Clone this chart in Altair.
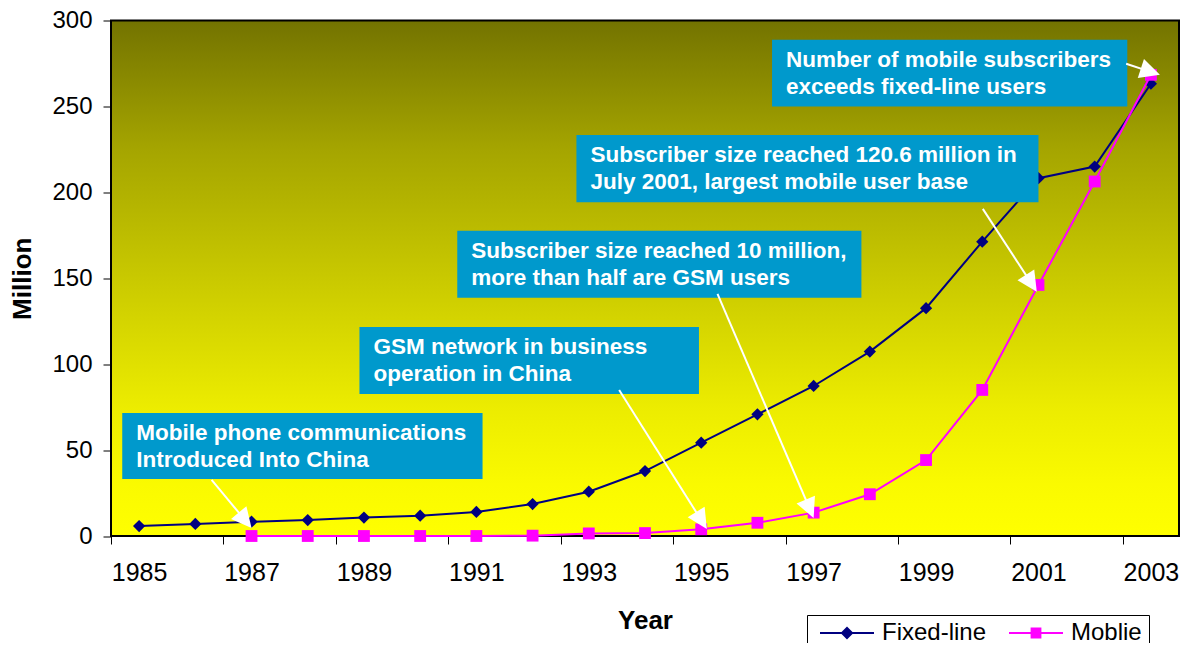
import math
import altair as alt
import pandas as pd

# ---------------- data ----------------
years = list(range(1985, 2004))
fixed_line = [5.8, 7.0, 8.3, 9.3, 10.7, 11.8, 14.0, 18.6, 25.8, 37.8, 54.3,
              70.8, 87.3, 107.3, 132.6, 171.3, 208.2, 215.0, 263.2]
mobile_years = list(range(1987, 2004))
mobile = [0.0, 0.0, 0.0, 0.0, 0.0, 0.2, 1.5, 1.7, 3.9, 7.7, 13.6, 24.3,
          44.2, 85.0, 146.1, 206.3, 268.4]
series_names = ["Fixed-line", "Moblie"]
series_colors = ["#000080", "#FF00FF"]
x_label_years = list(range(1985, 2004, 2))
y_ticks = [0, 50, 100, 150, 200, 250, 300]

note_line1 = ["Mobile phone communications", "GSM network in business",
              "Subscriber size reached 10 million,",
              "Subscriber size reached 120.6 million in",
              "Number of mobile subscribers"]
note_line2 = ["Introduced Into China", "operation in China",
              "more than half are GSM users",
              "July 2001, largest mobile user base",
              "exceeds fixed-line users"]
note_left = [1984.70, 1988.92, 1990.66, 1992.78, 1996.26]
note_right = [1991.11, 1994.96, 1997.85, 2001.00, 2002.58]
note_top = [71.6, 121.7, 177.6, 233.4, 288.8]
note_bottom = [33.2, 82.7, 138.7, 194.3, 249.9]

arrow_from_year = [1986.29, 1993.54, 1995.29, 2000.01, 2002.56]
arrow_from_value = [32.6, 85.0, 140.9, 190.4, 274.8]
arrow_to_year = [1987.00, 1995.10, 1997.00, 2000.97, 2003.16]
arrow_to_value = [4.7, 4.1, 10.5, 142.2, 268.4]

# ---------------- layout / style ----------------
W = 1068
H = 515.5
PX_YEAR = W / 19.0
PX_VAL = H / 300.0
FONT = "Liberation Sans"
HEAD_LEN = 20.0
HEAD_PATH = "M0,0L-0.5,1L0.5,1Z"
LEGEND_PATHS = [
    "M-1,-0.037L1,-0.037L1,0.037L-1,0.037Z M0,-0.24L0.24,0L0,0.24L-0.24,0Z",
    "M-1,-0.037L1,-0.037L1,0.037L-1,0.037Z M-0.2,-0.2L0.2,-0.2L0.2,0.2L-0.2,0.2Z",
]

XS = alt.Scale(domain=[1984.5, 2003.5], nice=False, zero=False)
YS = alt.Scale(domain=[0, 300], nice=False, zero=False)

x_axis = alt.Axis(values=x_label_years, format="d", tickOffset=-PX_YEAR / 2,
                  labelOffset=PX_YEAR / 2, tickSize=8, tickColor="black",
                  tickWidth=1, domain=False, grid=False, labelFont=FONT,
                  labelFontSize=25, labelColor="black", labelPadding=16,
                  labelFlush=False, labelOverlap=False, title="Year",
                  titleFont=FONT, titleFontSize=26, titleFontWeight="bold",
                  titleColor="black", titlePadding=22)
y_axis = alt.Axis(values=y_ticks, tickSize=8, tickColor="black", tickWidth=1,
                  domain=False, grid=False, labelFont=FONT, labelFontSize=24,
                  labelColor="black", labelPadding=11, title="Million",
                  titleFont=FONT, titleFontSize=26, titleFontWeight="bold",
                  titleColor="black", titlePadding=16)

X = alt.X("year:Q", scale=XS, axis=x_axis)
Y = alt.Y("value:Q", scale=YS, axis=y_axis)

# ---------------- tables ----------------
lines_df = pd.DataFrame({
    "year": years + mobile_years,
    "value": fixed_line + mobile,
    "series": [series_names[0]] * len(years) + [series_names[1]] * len(mobile_years),
})
bg_df = pd.DataFrame({"year": [1984.5], "year2": [2003.5], "value": [0], "value2": [300]})
notes_df = pd.DataFrame({"year": note_left, "year2": note_right,
                         "value": note_top, "value2": note_bottom,
                         "line1": note_line1, "line2": note_line2})

rule_rows, head_rows = [], []
for sx, sy, tx, ty in zip(arrow_from_year, arrow_from_value, arrow_to_year, arrow_to_value):
    dxp = (tx - sx) * PX_YEAR
    dyp = -(ty - sy) * PX_VAL
    L = math.hypot(dxp, dyp)
    ang = math.degrees(math.atan2(dxp, -dyp)) % 360
    ex = tx - (dxp / L * HEAD_LEN * 0.6) / PX_YEAR
    ey = ty + (dyp / L * HEAD_LEN * 0.6) / PX_VAL
    rule_rows.append({"year": sx, "value": sy, "year2": ex, "value2": ey})
    head_rows.append({"year": tx, "value": ty, "angle": ang})
rules_df = pd.DataFrame(rule_rows)
heads_df = pd.DataFrame(head_rows)

gradient = alt.LinearGradient(
    gradient="linear",
    stops=[alt.GradientStop(color="#737300", offset=0),
           alt.GradientStop(color="#A5A500", offset=0.25),
           alt.GradientStop(color="#C9C900", offset=0.5),
           alt.GradientStop(color="#ECEC00", offset=0.75),
           alt.GradientStop(color="#FAFA00", offset=0.9),
           alt.GradientStop(color="#FFFF00", offset=1)],
    x1=0, x2=0, y1=0, y2=1)

# ---------------- layers ----------------
bg = alt.Chart(bg_df).mark_rect(fill=gradient, stroke="black", strokeWidth=2).encode(
    x=X, x2="year2:Q", y=Y, y2="value2:Q")

layers = [bg]
shapes = ["diamond", "square"]
sizes = [150, 140]
for name, col, shp, sz in zip(series_names, series_colors, shapes, sizes):
    base = alt.Chart(lines_df).transform_filter(alt.datum.series == name)
    layers.append(base.mark_line(color=col, strokeWidth=2).encode(x=X, y=Y))
    layers.append(base.mark_point(shape=shp, size=sz, filled=True, color=col,
                                  opacity=1).encode(x=X, y=Y))

layers.append(alt.Chart(notes_df).mark_rect(fill="#0099CC").encode(
    x=X, x2="year2:Q", y=Y, y2="value2:Q"))
for field, dy in (("line1", 20), ("line2", 47)):
    layers.append(alt.Chart(notes_df).mark_text(
        align="left", baseline="middle", dx=14, dy=dy, font=FONT,
        fontSize=22.5, fontWeight="bold", color="white").encode(
        x=X, y=Y, text=f"{field}:N"))

layers.append(alt.Chart(rules_df).mark_rule(color="white", strokeWidth=2).encode(
    x=X, y=Y, x2="year2:Q", y2="value2:Q"))
layers.append(alt.Chart(heads_df).mark_point(
    shape=HEAD_PATH, size=(2 * HEAD_LEN) ** 2, filled=True, color="white",
    opacity=1).encode(x=X, y=Y, angle=alt.Angle("angle:Q", scale=None)))

leg = alt.Legend(orient="none", legendX=696, legendY=594.5, direction="horizontal",
                 title=None, fillColor="white", strokeColor="black", padding=7,
                 symbolSize=2916, symbolStrokeWidth=0, symbolOffset=6,
                 labelOffset=8, columnPadding=16, clipHeight=22, labelFont=FONT,
                 labelFontSize=24, labelColor="black", symbolOpacity=1,
                 labelLimit=0)
layers.append(alt.Chart(lines_df).transform_filter("false").mark_point(
    filled=True, size=2916, opacity=1).encode(
    x=X, y=Y,
    color=alt.Color("series:N", scale=alt.Scale(domain=series_names, range=series_colors), legend=leg),
    shape=alt.Shape("series:N", scale=alt.Scale(domain=series_names, range=LEGEND_PATHS), legend=leg)))

chart = alt.layer(*layers).properties(
    width=W, height=H, background="white",
    padding={"left": 103, "top": 12.5, "right": 1, "bottom": 107},
    autosize=alt.AutoSizeParams(type="none"),
).configure_view(stroke=None)

chart.save("out.html", embed_options={"renderer": "svg", "actions": False})
